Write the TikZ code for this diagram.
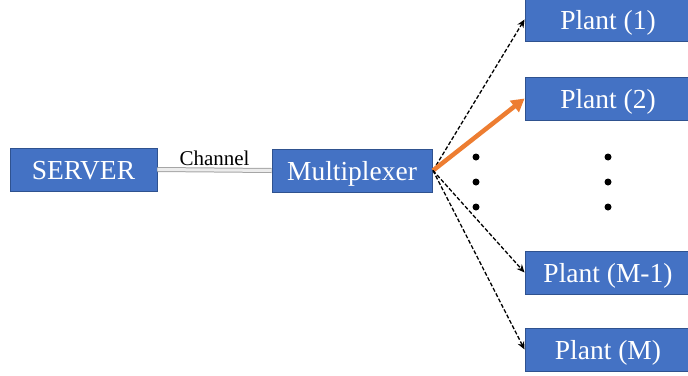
\documentclass[tikz,border=0pt]{standalone}
\usepackage{fontspec}
\setmainfont{Liberation Serif}
\usetikzlibrary{arrows.meta}
\definecolor{boxblue}{HTML}{4472C4}
\definecolor{boxedge}{HTML}{2F528F}
\definecolor{arrorange}{HTML}{ED7D31}
\tikzset{
  box/.style={draw=boxedge, line width=0.9pt, fill=boxblue, text=white, inner sep=0pt,
    minimum height=43pt, text height=19pt, text depth=0pt, font=\fontsize{27.5}{30}\selectfont},
  dasharrow/.style={draw=black, dash pattern=on 4pt off 2pt, line width=1.3pt, -{Stealth[length=8pt,width=7pt]}},
  hotarrow/.style={draw=arrorange, line width=4.5pt, -{Triangle[length=13pt,width=14pt]}},
  chan/.style={draw=gray!70, double=gray!15, double distance=3pt, line width=1pt},
  dotmark/.style={circle, fill=black, inner sep=0pt, minimum size=7pt}
}
\begin{document}
\begin{tikzpicture}[x={(1pt,0)}, y={(0,-1pt)}]
\useasboundingbox (0,0) rectangle (688,375);
\clip (0,0) rectangle (688,375);
\node[box, minimum width=147pt] (server) at (83.5,169.5) {SERVER};
\node[box, minimum width=160pt] (mux) at (352,170.5) {Multiplexer};
\node[box, minimum width=166pt] (p1) at (608,19.5) {Plant (1)};
\node[box, minimum width=166pt] (p2) at (608,98.5) {Plant (2)};
\node[box, minimum width=166pt] (pm1) at (608,272.5) {Plant (M-1)};
\node[box, minimum width=166pt] (pm) at (608,349.5) {Plant (M)};
\draw[chan] (server.east) -- node[above=0.5pt, font=\fontsize{21}{24}\selectfont, text=black] {Channel} (mux.west);
\coordinate (hub) at (433,170.5);
\draw[dasharrow] (hub) -- (p1.west);
\draw[hotarrow] (hub) -- (p2.west);
\draw[dasharrow] (hub) -- (pm1.west);
\draw[dasharrow] (hub) -- (pm.west);
\foreach \yy [count=\i] in {157,182,207}{
  \node[dotmark] (dl\i) at (476,\yy) {};
  \node[dotmark] (dr\i) at (608,\yy) {};
}
\end{tikzpicture}
\end{document}
